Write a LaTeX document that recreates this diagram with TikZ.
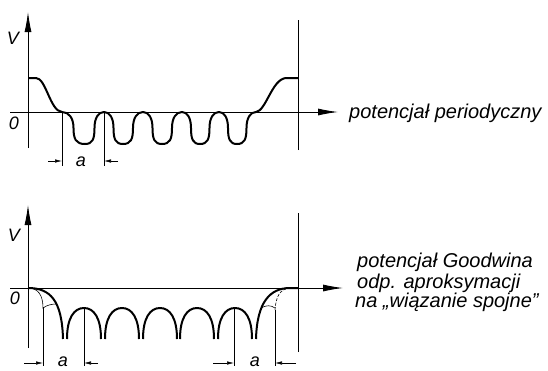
\documentclass[tikz,border=0pt]{standalone}
\usepackage{fontspec}
\setmainfont{Liberation Sans}
\usetikzlibrary{arrows.meta}
\begin{document}
\begin{tikzpicture}[x=1pt,y=-1pt,
  axisline/.style={line width=0.9pt},
  axisarrow/.style={line width=0.9pt,-{Latex[length=20pt,width=7pt]}},
  curve/.style={line width=2pt,line join=round},
  thinline/.style={line width=0.6pt},
  dimarrow/.style={line width=0.6pt,-{Latex[length=7pt,width=3.5pt]}},
  lbl/.style={font=\itshape\fontsize{20}{24}\selectfont,inner sep=0pt,anchor=west},
  sym/.style={font=\itshape\fontsize{18}{20}\selectfont,inner sep=0pt}]
\useasboundingbox (0,0) rectangle (548,370);
% ---------- top panel ----------
\coordinate (tyb) at (28,148); \coordinate (tyt) at (28,12);
\coordinate (txl) at (10,112); \coordinate (txr) at (338,112);
\coordinate (trb) at (298,150); \coordinate (trt) at (298,20);
\draw[axisarrow] (tyb) -- (tyt);
\draw[axisarrow] (txl) -- (txr);
\draw[axisline] (trb) -- (trt);
\node[sym] (tV) at (13,38) {V};
\node[sym] (t0) at (14,123) {0};
\node[lbl] (tlab) at (349,113) {potencjał periodyczny};
\draw[curve] (28,78) -- (36,78) .. controls (46,78) and (50,111) .. (62,112)
  \foreach \p/\b/\q in {62/85/104,104/123/143,143/162/182,182/200/219,219/237/256}{
    .. controls ({\p+0.3*(\b-\p)},112) and ({(\p+\b)/2},118) .. ({(\p+\b)/2},128)
    .. controls ({(\p+\b)/2},139) and ({\b-0.4*(\b-\p)},144) .. (\b,144)
    .. controls ({\b+0.4*(\q-\b)},144) and ({(\b+\q)/2},139) .. ({(\b+\q)/2},128)
    .. controls ({(\b+\q)/2},118) and ({\q-0.3*(\q-\b)},112) .. (\q,112)
  }
  .. controls (266,111) and (272,79) .. (286,78) -- (298,78);
\coordinate (td1t) at (62,112); \coordinate (td1b) at (62,166);
\coordinate (td2t) at (104,112); \coordinate (td2b) at (104,166);
\draw[thinline] (td1t) -- (td1b);
\draw[thinline] (td2t) -- (td2b);
\coordinate (ta1) at (48,161); \coordinate (ta1e) at (62,161);
\coordinate (ta2) at (118,161); \coordinate (ta2e) at (104,161);
\draw[dimarrow] (ta1) -- (ta1e);
\draw[dimarrow] (ta2) -- (ta2e);
\node[sym] (ta) at (81,162) {a};
% ---------- bottom panel ----------
\coordinate (byb) at (28,348); \coordinate (byt) at (28,205);
\coordinate (bxl) at (10,288); \coordinate (bxr) at (343,288);
\coordinate (brb) at (298,352); \coordinate (brt) at (298,213);
\draw[axisarrow] (byb) -- (byt);
\draw[axisarrow] (bxl) -- (bxr);
\draw[axisline] (brb) -- (brt);
\node[sym] (bV) at (14,235) {V};
\node[sym] (b0) at (15,298) {0};
\node[lbl] (bl1) at (357,262) {potencjał Goodwina};
\node[lbl] (bl2) at (357,283) {odp. aproksymacji};
\node[lbl] (bl3) at (355,302) {na „wiązanie spojne”};
\foreach \c in {84,122,160,197,235}{
  \draw[curve] (\c-17,339) .. controls (\c-17,318) and (\c-10,308) .. (\c,308)
    .. controls (\c+10,308) and (\c+17,318) .. (\c+17,339);
}
\draw[curve] (28,288) .. controls (50,288) and (62,300) .. (63,339);
\draw[curve] (256,339) .. controls (257,302) and (270,288) .. (290,288) -- (298,288);
\draw[thinline] (28,288) .. controls (38,288) and (43,295) .. (43,308)
  .. controls (47,305) and (52,304) .. (56.5,304);
\draw[thinline] (261,308) .. controls (266,305) and (271,305) .. (275,308);
\draw[thinline,dash pattern=on 3pt off 1.5pt] (275,310) .. controls (276,296) and (280,289) .. (290,288);
\coordinate (bd1t) at (43,308); \coordinate (bd1b) at (43,366);
\coordinate (bd2t) at (84,308); \coordinate (bd2b) at (84,366);
\coordinate (bd3t) at (234,308); \coordinate (bd3b) at (234,366);
\coordinate (bd4t) at (275,310); \coordinate (bd4b) at (275,366);
\draw[thinline] (bd1t) -- (bd1b);
\draw[thinline] (bd2t) -- (bd2b);
\draw[thinline] (bd3t) -- (bd3b);
\draw[thinline] (bd4t) -- (bd4b);
\coordinate (ba1) at (24,363); \coordinate (ba1e) at (43,363);
\coordinate (ba2) at (98,363); \coordinate (ba2e) at (84,363);
\coordinate (ba3) at (213,363); \coordinate (ba3e) at (234,363);
\coordinate (ba4) at (296,363); \coordinate (ba4e) at (275,363);
\draw[dimarrow] (ba1) -- (ba1e);
\draw[dimarrow] (ba2) -- (ba2e);
\draw[dimarrow] (ba3) -- (ba3e);
\draw[dimarrow] (ba4) -- (ba4e);
\node[sym] (ba) at (63,362) {a};
\node[sym] (bb) at (255,362) {a};
\end{tikzpicture}
\end{document}
